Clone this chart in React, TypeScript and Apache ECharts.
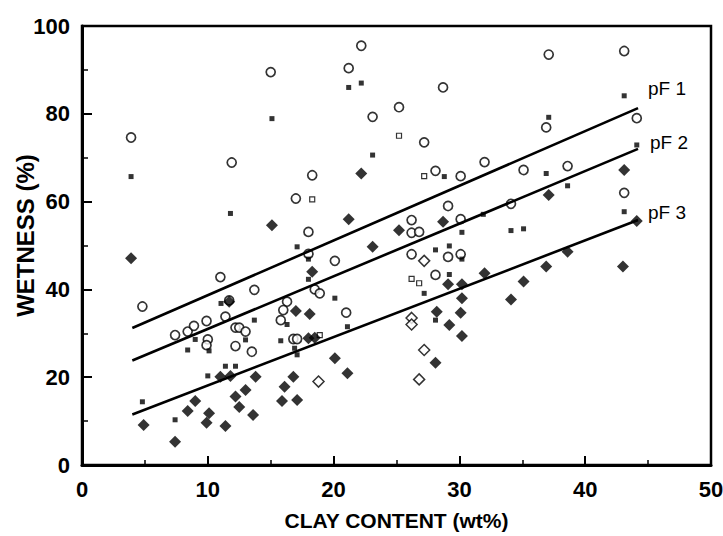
import React, { useEffect, useRef } from "react";
import * as echarts from "echarts";

// pF 1 — open circles [clay %, wetness %]
const pf1Points: number[][] = [
  [3.9, 74.6], [11.0, 42.8], [4.8, 36.1], [11.7, 37.5], [7.4, 29.6], [8.4, 30.4], [8.9, 31.7],
  [9.9, 32.8], [11.4, 33.8], [10.0, 28.6], [9.9, 27.3], [12.2, 31.3], [12.2, 27.1], [18.0, 48.1],
  [20.1, 46.5], [13.7, 39.9], [18.5, 40.0], [18.9, 39.1], [16.3, 37.2], [16.0, 35.3], [15.8, 33.0],
  [21.0, 34.7], [12.5, 31.3], [13.0, 30.4], [13.5, 25.8], [16.8, 28.7], [17.1, 28.7], [28.1, 67.0],
  [30.1, 65.8], [29.1, 59.0], [30.1, 56.0], [26.2, 55.8], [26.2, 52.9], [26.8, 53.1], [26.2, 48.0],
  [29.1, 47.4], [30.1, 48.0], [28.1, 43.3], [22.2, 95.5], [15.0, 89.5], [21.2, 90.4], [28.7, 86.0],
  [25.2, 81.5], [23.1, 79.3], [27.2, 73.5], [11.9, 68.9], [18.3, 66.0], [17.0, 60.7], [18.0, 53.1],
  [37.1, 93.5], [43.1, 94.3], [36.9, 76.9], [44.1, 79.0], [32.0, 69.0], [35.1, 67.2], [38.6, 68.1],
  [43.1, 62.0], [34.1, 59.5],
];

// pF 2 — small filled squares
const pf2FilledPoints: number[][] = [
  [3.9, 65.7], [11.8, 57.3], [11.05, 36.8], [9.0, 28.6], [8.4, 26.2], [10.1, 26.0], [11.4, 22.5],
  [12.2, 22.5], [10.0, 20.3], [4.8, 14.4], [7.4, 10.3], [17.1, 49.7], [18.0, 42.3], [20.1, 38.0],
  [13.7, 33.0], [16.3, 32.0], [21.1, 31.5], [13.0, 28.5], [15.8, 28.3], [16.9, 26.6], [17.1, 25.1],
  [28.8, 65.7], [30.2, 53.0], [28.1, 49.0], [29.2, 49.9], [29.2, 43.4], [27.2, 39.1], [28.1, 33.0],
  [21.2, 86.0], [22.2, 87.0], [15.1, 78.9], [23.1, 70.6], [43.1, 84.1], [37.1, 79.2], [44.1, 72.9],
  [36.9, 66.4], [38.6, 63.6], [43.1, 57.7], [31.9, 57.1], [34.1, 53.4], [35.1, 53.8], [18.0, 46.9],
  [30.2, 46.9],
];

// pF 2 — small open squares
const pf2OpenPoints: number[][] = [
  [27.2, 65.8], [26.2, 42.4], [26.8, 41.4], [18.3, 60.5], [25.2, 75.0], [18.9, 29.6],
];

// pF 3 — filled diamonds
const pf3FilledPoints: number[][] = [
  [3.9, 47.1], [11.7, 37.2], [11.0, 20.1], [11.8, 20.3], [9.0, 14.6], [8.4, 12.3], [10.1, 11.8],
  [9.9, 9.6], [4.9, 9.1], [11.4, 8.9], [7.4, 5.3], [12.2, 15.6], [12.5, 13.2], [18.3, 44.0],
  [17.0, 35.1], [18.1, 34.4], [18.0, 28.9], [18.5, 29.0], [20.1, 24.3], [21.1, 20.9], [13.8, 20.1],
  [13.0, 17.1], [13.6, 11.4], [16.8, 20.1], [16.1, 17.8], [15.9, 14.6], [17.1, 14.8], [22.2, 66.4],
  [28.7, 55.4], [25.2, 53.5], [23.1, 49.7], [29.1, 41.2], [30.2, 41.2], [30.2, 38.0], [28.2, 34.9],
  [30.1, 34.7], [29.2, 31.9], [30.2, 29.4], [28.1, 23.3], [15.1, 54.6], [21.2, 56.0], [43.1, 67.2],
  [37.1, 61.5], [44.1, 55.6], [32.0, 43.7], [38.6, 48.6], [36.9, 45.2], [35.1, 41.8], [34.1, 37.7],
  [43.0, 45.2],
];

// pF 3 — open diamonds
const pf3OpenPoints: number[][] = [
  [27.2, 46.5], [18.8, 19.0], [26.2, 33.5], [26.2, 32.0], [27.2, 26.2], [26.8, 19.5],
];

// regression lines (start / end)
const lineX = [4, 44.2];
const pf1Line = [31.2, 81.3];
const pf2Line = [23.8, 72.0];
const pf3Line = [11.5, 55.8];
const lineNames = ["pF 1", "pF 2", "pF 3"];

const xTicks = [0, 10, 20, 30, 40, 50];
const yTicks = [0, 20, 40, 60, 80, 100];

const FONT = "'Liberation Sans', Arial, sans-serif";

export default function App() {
  const ref = useRef<HTMLDivElement>(null);
  useEffect(() => {
    if (!ref.current) return;
    const chart = echarts.init(ref.current, null, { renderer: "svg" });
    const mkLine = (name: string, ys: number[], offset: number[]) => ({
      type: "line",
      name,
      data: lineX.map((x, i) => [x, ys[i]]),
      symbol: "none",
      lineStyle: { color: "#000", width: 2.6 },
      z: 5,
      endLabel: {
        show: true,
        formatter: name,
        offset,
        color: "#000",
        fontSize: 19,
        fontFamily: FONT,
      },
    });
    chart.setOption({
      animation: false,
      backgroundColor: "#fff",
      grid: {
        left: 82,
        right: 12,
        top: 26,
        bottom: 71,
        containLabel: false,
        outerBoundsMode: "none",
        show: true,
        borderColor: "#000",
        borderWidth: 2.5,
      },
      xAxis: {
        type: "value",
        min: xTicks[0],
        max: xTicks[xTicks.length - 1],
        interval: 10,
        name: "CLAY CONTENT (wt%)",
        nameLocation: "middle",
        nameGap: 45,
        nameMoveOverlap: false,
        nameTextStyle: { color: "#000", fontSize: 21, fontWeight: "bold", fontFamily: FONT },
        axisLine: { show: true, lineStyle: { color: "#000", width: 3 } },
        axisTick: { show: true, inside: true, length: 9, lineStyle: { color: "#000", width: 2 } },
        minorTick: { show: true, splitNumber: 2, length: 5, lineStyle: { color: "#000", width: 1.5 } },
        axisLabel: { color: "#000", fontSize: 22, fontWeight: "bold", fontFamily: FONT, margin: 13 },
        splitLine: { show: false },
      },
      yAxis: {
        type: "value",
        min: yTicks[0],
        max: yTicks[yTicks.length - 1],
        interval: 20,
        name: "WETNESS (%)",
        nameLocation: "middle",
        nameRotate: 90,
        nameGap: 45,
        nameMoveOverlap: false,
        nameTextStyle: {
          color: "#000",
          fontSize: 24,
          fontWeight: "bold",
          fontFamily: FONT,
          padding: [0, 0, 0, 20],
        },
        axisLine: { show: true, lineStyle: { color: "#000", width: 3 } },
        axisTick: { show: true, inside: true, length: 10, lineStyle: { color: "#000", width: 2 } },
        minorTick: { show: true, splitNumber: 2, length: 6, lineStyle: { color: "#000", width: 1.5 } },
        axisLabel: { color: "#000", fontSize: 22, fontWeight: "bold", fontFamily: FONT, margin: 12 },
        splitLine: { show: false },
      },
      series: [
        {
          type: "scatter",
          name: "pF 1",
          data: pf1Points,
          symbol: "circle",
          symbolSize: 9,
          itemStyle: { color: "#fff", borderColor: "#000", borderWidth: 1.7 },
          z: 2,
        },
        {
          type: "scatter",
          name: "pF 2",
          data: pf2FilledPoints,
          symbol: "rect",
          symbolSize: 5,
          itemStyle: { color: "#000" },
          z: 3,
        },
        {
          type: "scatter",
          name: "pF 2 open",
          data: pf2OpenPoints,
          symbol: "rect",
          symbolSize: 5,
          itemStyle: { color: "#fff", borderColor: "#000", borderWidth: 1.2 },
          z: 3,
        },
        {
          type: "scatter",
          name: "pF 3",
          data: pf3FilledPoints,
          symbol: "diamond",
          symbolSize: 12,
          itemStyle: { color: "#000" },
          z: 4,
        },
        {
          type: "scatter",
          name: "pF 3 open",
          data: pf3OpenPoints,
          symbol: "diamond",
          symbolSize: 11,
          itemStyle: { color: "#fff", borderColor: "#000", borderWidth: 1.5 },
          z: 4,
        },
        mkLine(lineNames[0], pf1Line, [2, -20]),
        mkLine(lineNames[1], pf2Line, [4, -6]),
        mkLine(lineNames[2], pf3Line, [2, -8]),
      ],
    });
    return () => chart.dispose();
  }, []);
  return (
    <div
      ref={ref}
      style={{ position: "fixed", left: 0, top: 0, width: 723, height: 536, background: "#fff" }}
    />
  );
}
